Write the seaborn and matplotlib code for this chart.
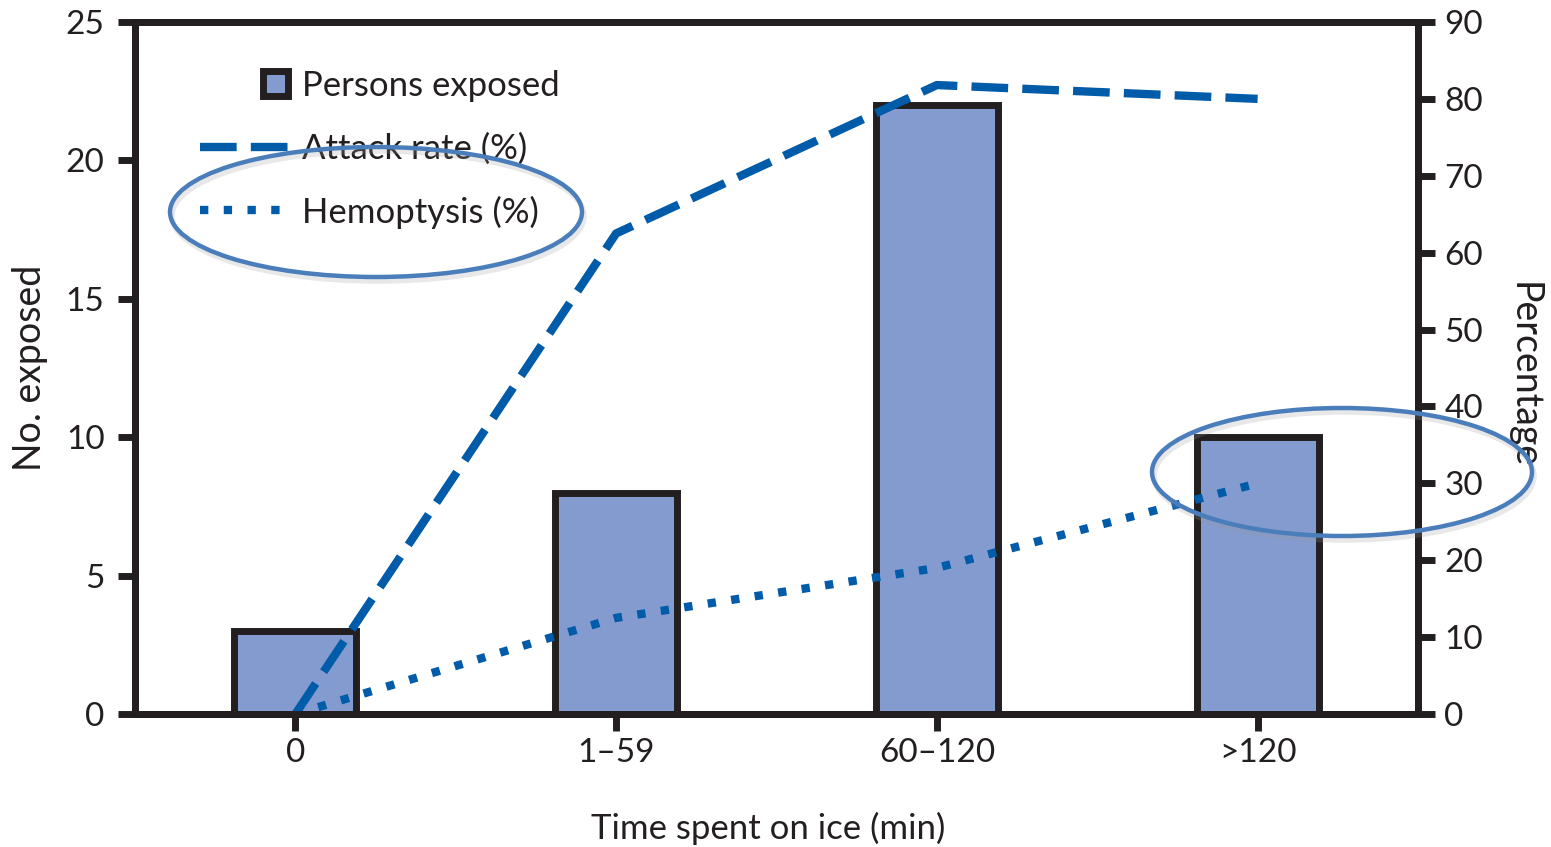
import numpy as np
import pandas as pd
import matplotlib
matplotlib.use("Agg")
import matplotlib.pyplot as plt
import seaborn as sns
from matplotlib.patches import Ellipse, Rectangle
from matplotlib.lines import Line2D
from matplotlib.legend_handler import HandlerBase

# Exposure time categories and outcomes
categories = ["0", "1\u201359", "60\u2013120", ">120"]
persons_exposed = [3, 8, 22, 10]
attack_rate = [0, 62.5, 81.8, 80]
hemoptysis = [0, 12.5, 19, 30]

left_ticks = [0, 5, 10, 15, 20, 25]
right_ticks = [0, 10, 20, 30, 40, 50, 60, 70, 80, 90]

DARK = "#231f20"
BAR = "#839bce"
BLUE = "#005ba9"
RING = "#4a7ebb"

sns.set_theme(style="white")
plt.rcParams["font.family"] = ["Lato", "DejaVu Sans"]
plt.rcParams["text.color"] = DARK

W, H = 1551, 847
fig = plt.figure(figsize=(W / 100, H / 100), dpi=100)
ax = fig.add_axes([135 / W, 1 - 714 / H, (1418 - 135) / W, (714 - 22) / H])

df = pd.DataFrame({"time": categories, "exposed": persons_exposed})
sns.barplot(data=df, x="time", y="exposed", order=categories, color=BAR,
            saturation=1, width=0.38, edgecolor=DARK, linewidth=5, ax=ax)
ax.set_ylim(0, 25)
ax.set_yticks(left_ticks)

ax2 = ax.twinx()
pos = np.arange(len(categories))
sns.lineplot(x=pos, y=attack_rate, ax=ax2, color=BLUE, linewidth=6)
sns.lineplot(x=pos, y=hemoptysis, ax=ax2, color=BLUE, linewidth=6)
l_attack, l_hemo = ax2.lines[0], ax2.lines[1]
l_attack.set_dashes([4.4, 1.7])
l_hemo.set_dashes([1.0, 1.85])
ax2.set_ylim(0, 90)
ax2.set_yticks(right_ticks)
ax.set_xlim(-0.5, 3.5)
ax2.set_xlim(-0.5, 3.5)

# Frame and ticks
for a in (ax, ax2):
    for s in a.spines.values():
        s.set_visible(True)
        s.set_linewidth(5)
        s.set_color(DARK)
        s.set_capstyle("projecting")
    a.set_facecolor("none")
    a.grid(False)

tick_kw = dict(direction="out", length=12, width=5, color=DARK,
               labelsize=24, labelcolor=DARK)
ax.tick_params(axis="y", left=True, pad=10, **tick_kw)
ax.tick_params(axis="x", bottom=True, pad=5, **tick_kw)
ax2.tick_params(axis="y", right=True, pad=7, **tick_kw)

ax.set_xlabel("Time spent on ice (min)", fontsize=25, color=DARK)
ax.xaxis.set_label_coords((768 - 135) / 1283, (714 - 828) / 692)
ax.xaxis.label.set_verticalalignment("center")

ax.set_ylabel("No. exposed", fontsize=27, color=DARK)
ax.yaxis.set_label_coords((30 - 135) / 1283, 0.5)
ax.yaxis.label.set_verticalalignment("center")

ax2.set_ylabel("Percentage", fontsize=27, color=DARK, rotation=270)
ax2.yaxis.set_label_coords((1524 - 135) / 1283, 0.49)
ax2.yaxis.label.set_verticalalignment("center")
ax2.yaxis.label.set_horizontalalignment("center")


class SquareHandler(HandlerBase):
    def create_artists(self, legend, orig_handle, xdescent, ydescent,
                       width, height, fontsize, trans):
        s = 0.72 * fontsize
        x0 = width - xdescent - s - 2
        y0 = height / 2 - ydescent - s / 2
        p = Rectangle((x0, y0), s, s, facecolor=BAR, edgecolor=DARK,
                      linewidth=5, transform=trans)
        return [p]


bar_proxy = Rectangle((0, 0), 1, 1, facecolor=BAR, edgecolor=DARK)
attack_proxy = Line2D([], [], color=BLUE, linewidth=6, dashes=[4.4, 1.7])
hemo_proxy = Line2D([], [], color=BLUE, linewidth=6, dashes=[1.0, 1.85])
leg = ax2.legend([bar_proxy, attack_proxy, hemo_proxy],
                 ["Persons exposed", "Attack rate (%)", "Hemoptysis (%)"],
                 handler_map={bar_proxy: SquareHandler()},
                 loc="upper left", bbox_to_anchor=(200 / W, 1 - 70 / H),
                 bbox_transform=fig.transFigure, frameon=False,
                 fontsize=25, handlelength=2.6, handletextpad=0.35,
                 labelspacing=0.88, borderpad=0, borderaxespad=0)
for t in leg.get_texts():
    t.set_color(DARK)

# Highlight rings
for cx, cy, w, h in [(376, 212, 412, 130), (1342, 472, 380, 128)]:
    shadow = Ellipse(((cx + 2) / W, 1 - (cy + 4) / H), w / W, h / H,
                     transform=fig.transFigure, fill=False,
                     edgecolor="#9a9a9a", linewidth=4, alpha=0.22)
    ring = Ellipse((cx / W, 1 - cy / H), w / W, h / H,
                   transform=fig.transFigure, fill=False,
                   edgecolor=RING, linewidth=3.2)
    fig.add_artist(shadow)
    fig.add_artist(ring)

fig.savefig("out.png", dpi=100, facecolor="white")
